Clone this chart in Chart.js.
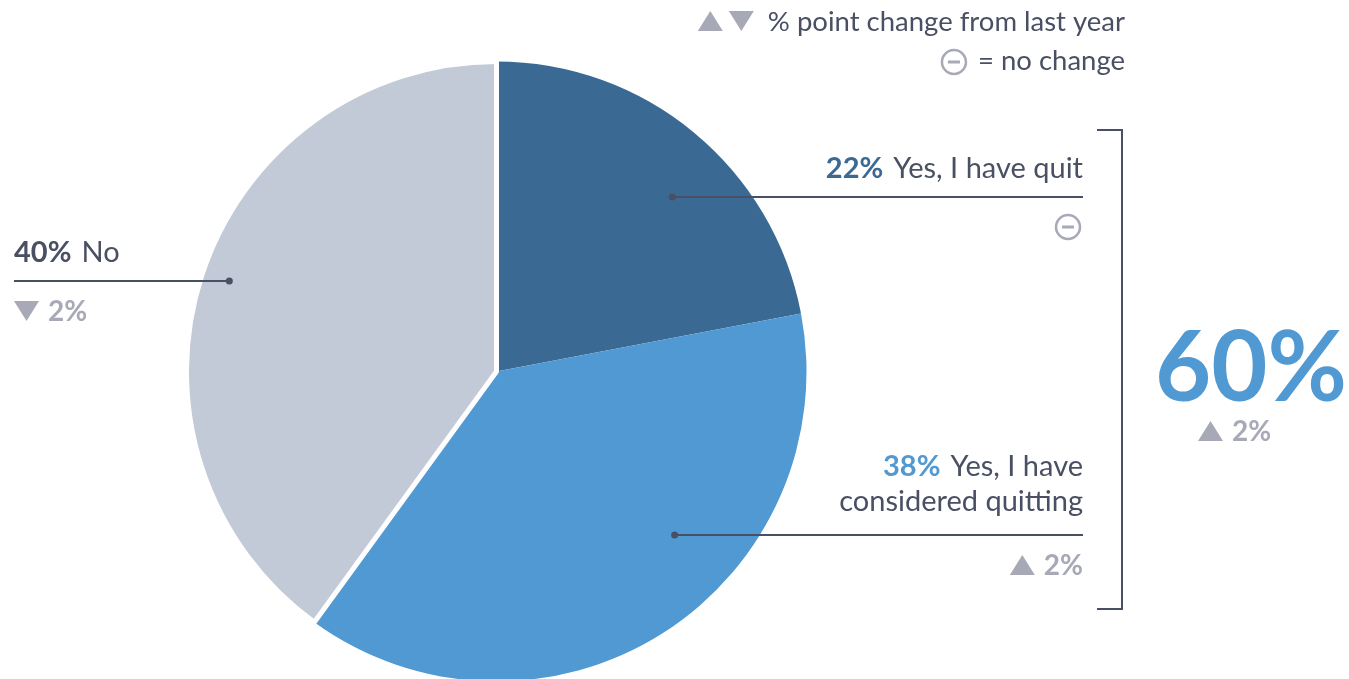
<!DOCTYPE html>
<html>
<head>
<meta charset="utf-8">
<script src="https://cdn.jsdelivr.net/npm/chart.js@4"></script>
<style>
html, body { margin: 0; padding: 0; background: #fff; overflow: hidden; }
#wrap { position: relative; width: 1349px; height: 679px; overflow: hidden; }
canvas { display: block; }
</style>
</head>
<body>
<div id="wrap"><canvas id="pieChart" width="1349" height="684"></canvas></div>
<script>
// datos
const labels = ['Yes, I have quit', 'Yes, I have considered quitting', 'No'];
const shares = [22, 38, 40];
const changes = [0, 2, -2];           // % point change from last year
const totalYes = 60;
const totalYesChange = 2;

const sliceColors = ['#3a6a94', '#5199d2', '#c2c9d7'];
const pctColors = ['#3a6a94', '#5199d2', '#4a5063'];
const DARK = '#4a5063';
const GREY = '#a7a9b6';
const FONT = 'Lato, "Open Sans", sans-serif';

// where each leader dot sits inside its slice (fraction of angle, fraction of radius)
const dotSpots = [
    { t: 0.57, f: 0.80, side: 'right', textX: 1083, gap: 19, lines: ['Yes, I have quit'] },
    { t: 0.39, f: 0.78, side: 'right', textX: 1083, gap: 24, lines: ['Yes, I have', 'considered quitting'] },
    { t: 0.505, f: 0.91, side: 'left', textX: 14, gap: 19, lines: ['No'] }
];

function triangle(ctx, x, y, w, h, up) {
    ctx.beginPath();
    if (up) {
        ctx.moveTo(x, y + h / 2);
        ctx.lineTo(x + w, y + h / 2);
        ctx.lineTo(x + w / 2, y - h / 2);
    } else {
        ctx.moveTo(x, y - h / 2);
        ctx.lineTo(x + w, y - h / 2);
        ctx.lineTo(x + w / 2, y + h / 2);
    }
    ctx.closePath();
    ctx.fillStyle = GREY;
    ctx.fill();
}

function noChangeIcon(ctx, cx, cy) {
    ctx.beginPath();
    ctx.arc(cx, cy, 12, 0, Math.PI * 2);
    ctx.strokeStyle = GREY;
    ctx.lineWidth = 2.5;
    ctx.stroke();
    ctx.beginPath();
    ctx.moveTo(cx - 6, cy);
    ctx.lineTo(cx + 6, cy);
    ctx.lineWidth = 3;
    ctx.stroke();
}

// draws a change marker; anchor is left or right edge
function changeMark(ctx, value, x, cy, align) {
    if (value === 0) {
        noChangeIcon(ctx, align === 'right' ? x - 15 : x + 13, cy);
        return;
    }
    ctx.font = 'bold 28px ' + FONT;
    ctx.textBaseline = 'middle';
    const txt = Math.abs(value) + '%';
    const tw = ctx.measureText(txt).width;
    const total = 25 + 9 + tw;
    const left = align === 'right' ? x - total : x;
    triangle(ctx, left, cy, 25, 20, value > 0);
    ctx.fillStyle = GREY;
    ctx.textAlign = 'left';
    ctx.fillText(txt, left + 34, cy + 1);
}

const annotations = {
    id: 'annotations',
    afterDatasetsDraw(chart) {
        const ctx = chart.ctx;
        const arcs = chart.getDatasetMeta(0).data;
        ctx.save();

        arcs.forEach((arc, i) => {
            const p = arc.getProps(['x', 'y', 'startAngle', 'endAngle', 'outerRadius'], true);
            const spot = dotSpots[i];
            const a = p.startAngle + spot.t * (p.endAngle - p.startAngle);
            const dx = p.x + Math.cos(a) * p.outerRadius * spot.f;
            const dy = Math.round(p.y + Math.sin(a) * p.outerRadius * spot.f);

            // leader line + dot
            ctx.strokeStyle = DARK;
            ctx.lineWidth = 2;
            ctx.beginPath();
            ctx.moveTo(dx, dy);
            ctx.lineTo(spot.textX, dy);
            ctx.stroke();
            ctx.beginPath();
            ctx.arc(dx, dy, 3.5, 0, Math.PI * 2);
            ctx.fillStyle = DARK;
            ctx.fill();

            // label text
            ctx.textBaseline = 'alphabetic';
            const pct = shares[i] + '%';
            const nLines = spot.lines.length;
            spot.lines.forEach((line, k) => {
                const base = dy - spot.gap - (nLines - 1 - k) * 35;
                ctx.font = '29px ' + FONT;
                const lw = ctx.measureText(line).width;
                let pw = 0;
                if (k === 0) {
                    ctx.font = 'bold 29px ' + FONT;
                    pw = ctx.measureText(pct + ' ').width + 3;
                }
                const left = spot.side === 'right' ? spot.textX - lw - pw : spot.textX;
                ctx.textAlign = 'left';
                if (k === 0) {
                    ctx.font = 'bold 29px ' + FONT;
                    ctx.fillStyle = pctColors[i];
                    ctx.fillText(pct, left, base);
                }
                ctx.font = '29px ' + FONT;
                ctx.fillStyle = DARK;
                ctx.fillText(line, left + pw, base);
            });

            changeMark(ctx, changes[i], spot.textX, dy + 30, spot.side === 'right' ? 'right' : 'left');
        });

        // bracket round the two "yes" answers
        ctx.strokeStyle = DARK;
        ctx.lineWidth = 2;
        ctx.beginPath();
        ctx.moveTo(1097, 130);
        ctx.lineTo(1122, 130);
        ctx.lineTo(1122, 609);
        ctx.lineTo(1097, 609);
        ctx.stroke();

        // total
        ctx.textAlign = 'center';
        ctx.textBaseline = 'alphabetic';
        ctx.font = 'bold 97px ' + FONT;
        ctx.fillStyle = '#5199d2';
        ctx.fillText(totalYes + '%', 1251, 401);
        changeMark(ctx, totalYesChange, 1198, 431, 'left');

        // legend
        ctx.font = '27.5px ' + FONT;
        ctx.fillStyle = DARK;
        ctx.textAlign = 'right';
        ctx.textBaseline = 'middle';
        ctx.fillText('% point change from last year', 1125, 22);
        const lw = ctx.measureText('% point change from last year').width;
        triangle(ctx, 1125 - lw - 70, 21, 25, 20, true);
        triangle(ctx, 1125 - lw - 39, 21, 25, 20, false);
        ctx.fillStyle = DARK;
        ctx.fillText('= no change', 1125, 61);
        const nw = ctx.measureText('= no change').width;
        noChangeIcon(ctx, 1125 - nw - 24, 62);

        ctx.restore();
    }
};

const pieCtx = document.getElementById('pieChart').getContext('2d');
const pieChart = new Chart(pieCtx, {
    type: 'pie',
    data: {
        labels: labels,
        datasets: [{
            data: shares,
            backgroundColor: sliceColors,
            borderColor: '#ffffff',
            borderWidth: [0, 0, 5]
        }]
    },
    options: {
        responsive: false,
        animation: false,
        layout: { padding: { left: 184, right: 540, top: 59, bottom: 0 } },
        plugins: {
            legend: { display: false },
            tooltip: { enabled: false }
        }
    },
    plugins: [annotations]
});
</script>
</body>
</html>
